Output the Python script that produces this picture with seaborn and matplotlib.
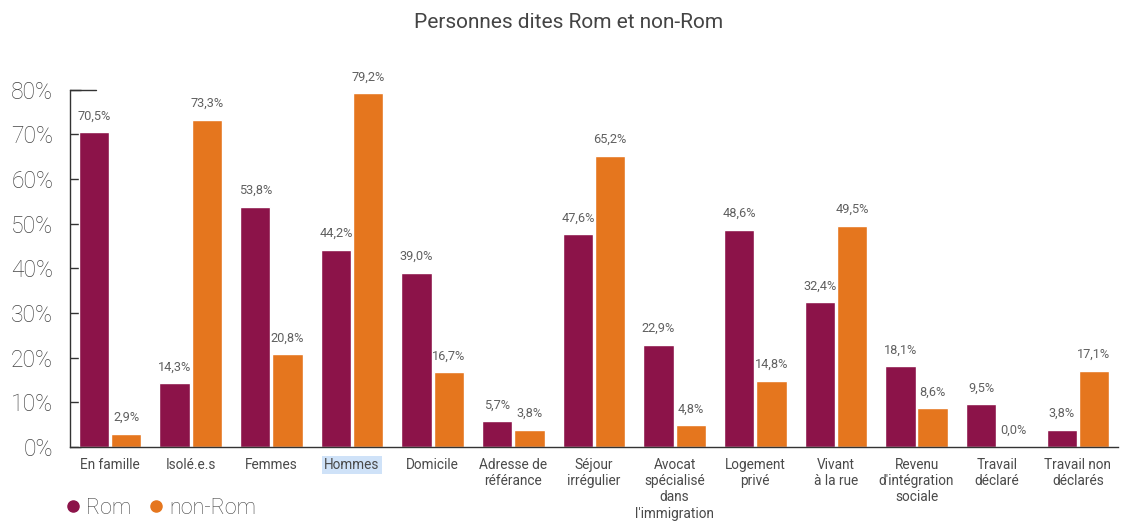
import matplotlib
matplotlib.use("Agg")
import matplotlib.pyplot as plt
import numpy as np
import pandas as pd
import seaborn as sns
from matplotlib.lines import Line2D


categories = [
    "En famille", "Isolé.e.s", "Femmes", "Hommes", "Domicile",
    "Adresse de\nréférance", "Séjour\nirrégulier",
    "Avocat\nspécialisé\ndans\nl'immigration", "Logement\nprivé",
    "Vivant\nà la rue", "Revenu\nd'intégration\nsociale",
    "Travail\ndéclaré", "Travail non\ndéclarés",
]
rom = [70.5, 14.3, 53.8, 44.2, 39.0, 5.7, 47.6, 22.9, 48.6, 32.4, 18.1, 9.5, 3.8]
non_rom = [2.9, 73.3, 20.8, 79.2, 16.7, 3.8, 65.2, 4.8, 14.8, 49.5, 8.6, 0.0, 17.1]
groups = ["Rom", "non-Rom"]
y_ticks = [0, 10, 20, 30, 40, 50, 60, 70, 80]

colors = {"Rom": "#8c1349", "non-Rom": "#e5761e"}

df = pd.DataFrame({
    "categorie": categories * 2,
    "groupe": [groups[0]] * len(rom) + [groups[1]] * len(non_rom),
    "valeur": rom + non_rom,
})

sns.set_style("white")
plt.rcParams["font.family"] = ["Roboto", "DejaVu Sans"]

fig, ax = plt.subplots(figsize=(11.26, 5.22), dpi=100)
fig.subplots_adjust(left=0.062, right=0.993, bottom=0.144, top=0.828)

sns.barplot(
    data=df, x="categorie", y="valeur", hue="groupe", order=categories,
    hue_order=groups, palette=colors, width=0.8, gap=0.06,
    saturation=1, ax=ax, legend=False,
)

# value labels
for cont in ax.containers:
    ax.bar_label(
        cont, labels=[f"{v:.1f}%".replace(".", ",") for v in cont.datavalues],
        padding=7, fontsize=9.2, color="#606060", clip_on=False,
    )

ax.set_ylim(0, 80)
ax.set_xlim(-0.5, len(categories) - 0.5)
ax.set_yticks(y_ticks)
ax.set_yticklabels([f"{t}%" for t in y_ticks], fontsize=16.5, color="#444444",
                   fontweight="light")
ax.set_xticks(range(len(categories)))
ax.set_xticklabels(categories, fontsize=9.8, color="#4a4a4a", linespacing=1.2)
ax.set_xticks(np.arange(0.5, len(categories) - 0.5, 1), minor=True)
ax.tick_params(axis="x", which="major", length=0, pad=8)
ax.tick_params(axis="x", which="minor", direction="in", length=8, width=1, color="#333333")
ax.tick_params(axis="y", direction="in", length=8, width=1, color="#333333", pad=12, left=True)
ax.set_xlabel("")
ax.set_ylabel("")

for side in ["top", "right"]:
    ax.spines[side].set_visible(False)
for side in ["left", "bottom"]:
    ax.spines[side].set_color("#333333")
    ax.spines[side].set_linewidth(1)
ax.axhline(80, xmin=0, xmax=0.025, color="#333333", lw=1, clip_on=False)

# highlighted label
ax.get_xticklabels()[3].set_bbox(dict(facecolor="#cfe2f8", edgecolor="none", pad=1.5))

fig.suptitle("Personnes dites Rom et non-Rom", x=0.505, y=0.975, fontsize=15, color="#444444")

handles = [
    Line2D([], [], marker="o", ls="", color=colors[g], markersize=8, label=g)
    for g in groups
]
fig.legend(
    handles=handles, loc="lower left", bbox_to_anchor=(0.041, -0.031), ncol=2,
    frameon=False, handlelength=0.7, handletextpad=0.25,
    columnspacing=0.8, labelcolor="#444444", prop={"weight": "light", "size": 15.5},
)

fig.savefig("out.png", dpi=100)
